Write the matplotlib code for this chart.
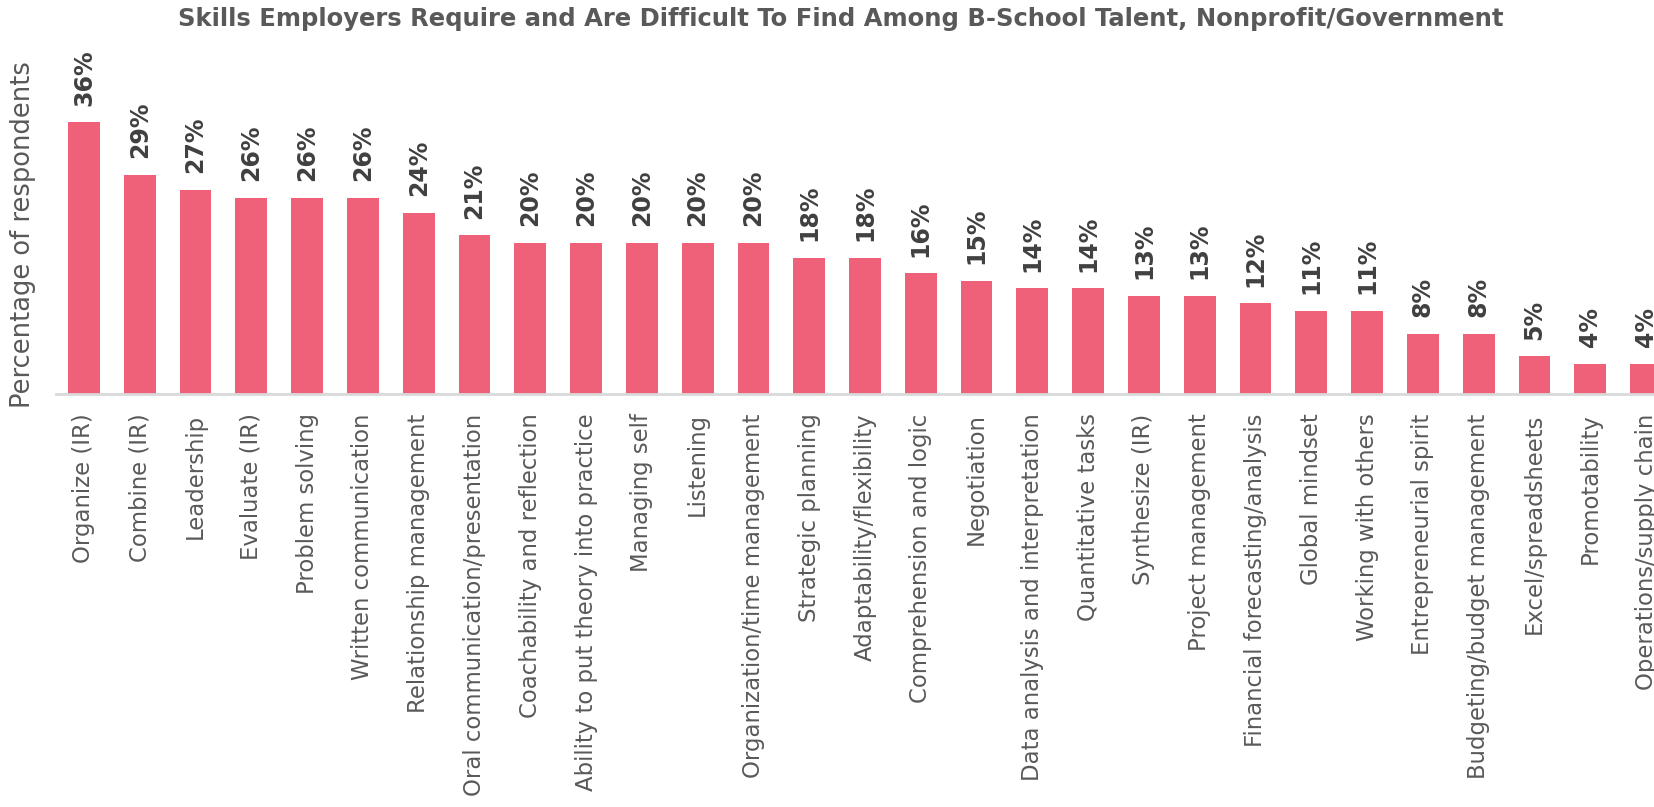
import matplotlib.pyplot as plt

skills = [
    "Organize (IR)", "Combine (IR)", "Leadership", "Evaluate (IR)", "Problem solving",
    "Written communication", "Relationship management", "Oral communication/presentation",
    "Coachability and reflection", "Ability to put theory into practice", "Managing self",
    "Listening", "Organization/time management", "Strategic planning", "Adaptability/flexibility",
    "Comprehension and logic", "Negotiation", "Data analysis and interpretation",
    "Quantitative tasks", "Synthesize (IR)", "Project management", "Financial forecasting/analysis",
    "Global mindset", "Working with others", "Entrepreneurial spirit",
    "Budgeting/budget management", "Excel/spreadsheets", "Promotability", "Operations/supply chain",
]
percent = [36, 29, 27, 26, 26, 26, 24, 21, 20, 20, 20, 20, 20, 18, 18, 16, 15, 14, 14, 13, 13,
           12, 11, 11, 8, 8, 5, 4, 4]

BAR = "#EF6079"
GREY = "#595959"
LABEL = "#404040"

W, H = 1654, 807
fig = plt.figure(figsize=(W / 100, H / 100), dpi=100)
# plot area runs off the right edge, as in the original
left, right, base, top = 56, 1674, 394, 92
ax = fig.add_axes([left / W, (H - base) / H, (right - left) / W, (base - top) / H])

x = range(len(skills))
bars = ax.bar(x, percent, width=0.57, color=BAR, zorder=2)
ax.set_xlim(-0.5, len(skills) - 0.5)
ax.set_ylim(0, 40)

for rect, v in zip(bars, percent):
    ax.annotate(f"{v}%", (rect.get_x() + rect.get_width() / 2, v), xytext=(0, 12),
                textcoords="offset points", rotation=90, ha="center", va="bottom",
                fontsize=17, fontweight="bold", color=LABEL, annotation_clip=False)

ax.set_xticks(list(x))
ax.set_xticklabels(skills, rotation=90, fontsize=16.4, color=GREY, va="top")
ax.tick_params(axis="x", length=0, pad=14)
ax.set_yticks([])
for s in ("top", "right", "left"):
    ax.spines[s].set_visible(False)
ax.spines["bottom"].set_color("#D9D9D9")
ax.spines["bottom"].set_linewidth(2)

fig.text(10 / W, 1 - 408 / H, "Percentage of respondents", rotation=90, ha="left", va="bottom",
         fontsize=18.5, color=GREY)
fig.text(841 / W, 1 - 7 / H, "Skills Employers Require and Are Difficult To Find Among B-School Talent, Nonprofit/Government",
         ha="center", va="top", fontsize=17.5, fontweight="bold", color=GREY)

fig.savefig("out.png", dpi=100)
